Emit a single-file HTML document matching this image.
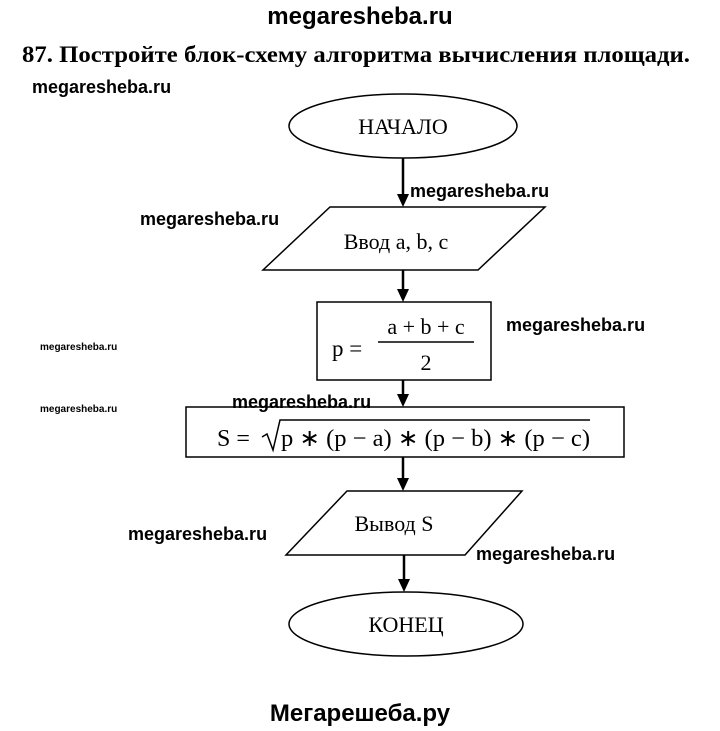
<!DOCTYPE html>
<html><head><meta charset="utf-8"><style>
html,body{margin:0;padding:0;background:#fff;}
svg{display:block;}
.wm{font-family:"Liberation Sans",sans-serif;font-weight:bold;fill:#000;}
.t{font-family:"Liberation Serif",serif;fill:#000;}
</style></head><body>
<svg width="720" height="731" viewBox="0 0 720 731" xmlns="http://www.w3.org/2000/svg">
<g stroke="#000" stroke-width="1.5" fill="none">
<ellipse cx="403" cy="126" rx="114" ry="32"/>
<polygon points="330,207 545,207 478,270 263,270"/>
<rect x="317" y="302" width="174" height="78"/>
<rect x="186" y="407" width="438" height="50"/>
<polygon points="347,491 522,491 465,555 286,555"/>
<ellipse cx="406" cy="624" rx="117" ry="32"/>
</g>
<g stroke="#000" stroke-width="2.5">
<line x1="403" y1="158" x2="403" y2="196"/>
<line x1="403" y1="270" x2="403" y2="291"/>
<line x1="403" y1="380" x2="403" y2="396"/>
<line x1="403" y1="457" x2="403" y2="480"/>
<line x1="404" y1="555" x2="404" y2="581"/>
</g>
<g fill="#000">
<path d="M397,194 L409,194 L403,207 z"/>
<path d="M397,289 L409,289 L403,302 z"/>
<path d="M397,394 L409,394 L403,407 z"/>
<path d="M397,478 L409,478 L403,491 z"/>
<path d="M398,579 L410,579 L404,592 z"/>
</g>
<text class="wm" x="360" y="24" font-size="24" text-anchor="middle">megaresheba.ru</text>
<text class="t" x="22" y="62" font-size="23" font-weight="bold" textLength="668" lengthAdjust="spacingAndGlyphs">87. Постройте блок-схему алгоритма вычисления площади.</text>
<text class="wm" x="32" y="93" font-size="18">megaresheba.ru</text>
<text class="t" x="403" y="134" font-size="22" text-anchor="middle">НАЧАЛО</text>
<text class="wm" x="410" y="197" font-size="18">megaresheba.ru</text>
<text class="wm" x="140" y="225" font-size="18">megaresheba.ru</text>
<text class="t" x="396" y="249" font-size="22" text-anchor="middle">Ввод a, b, c</text>
<text class="t" x="332" y="356" font-size="23">p =</text>
<text class="t" x="426" y="334" font-size="22" text-anchor="middle">a + b + c</text>
<line x1="378" y1="342" x2="474" y2="342" stroke="#000" stroke-width="1.5"/>
<text class="t" x="426" y="370" font-size="22" text-anchor="middle">2</text>
<text class="wm" x="506" y="331" font-size="18">megaresheba.ru</text>
<text class="wm" x="40" y="350" font-size="10">megaresheba.ru</text>
<text class="wm" x="40" y="412" font-size="10">megaresheba.ru</text>
<text class="wm" x="232" y="408" font-size="18">megaresheba.ru</text>
<text class="t" x="217" y="446" font-size="24">S =</text>
<path d="M262,437 L267,434 L273,450 L280,420 L590,420" stroke="#000" stroke-width="1.5" fill="none"/>
<text class="t" x="281" y="446" font-size="24" textLength="309" lengthAdjust="spacingAndGlyphs">p ∗ (p − a) ∗ (p − b) ∗ (p − c)</text>
<text class="wm" x="128" y="540" font-size="18">megaresheba.ru</text>
<text class="t" x="394" y="531" font-size="22" text-anchor="middle">Вывод S</text>
<text class="wm" x="476" y="560" font-size="18">megaresheba.ru</text>
<text class="t" x="406" y="632" font-size="22" text-anchor="middle">КОНЕЦ</text>
<text class="wm" x="360" y="721" font-size="24" text-anchor="middle">Мегарешеба.ру</text>
</svg>
</body></html>
